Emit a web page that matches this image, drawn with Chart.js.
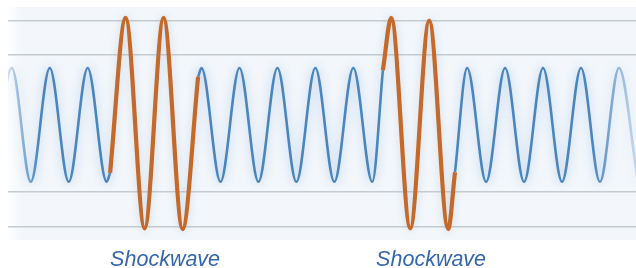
<!DOCTYPE html>
<html>
<head>
<meta charset="utf-8">
<script src="https://cdn.jsdelivr.net/npm/chart.js@4"></script>
<style>
  body { margin: 0; background: #ffffff; }
  #wrap { width: 636px; height: 268px; }
</style>
</head>
<body>
<div id="wrap"><canvas id="waveChart"></canvas></div>
<script>
// x is measured in wave cycles (blue crest = whole number), y in grid units
// null = the blue wave is broken where a shockwave takes over
const baseX = [-0.5, 0, 0.5, 1, 1.5, 2, 2.5, 2.59, 3.7, 4.91, 5, 5.5, 6, 6.5, 7, 7.5, 8, 8.5,
               9, 9.5, 9.78, 10.7, 11.68, 12, 12.5, 13, 13.5, 14, 14.5, 15, 15.5, 16, 16.5];
const baseY = [-0.85, 0.81, -0.85, 0.81, -0.85, 0.81, -0.85, -0.72, null, 0.68, 0.81, -0.85,
               0.81, -0.85, 0.81, -0.85, 0.81, -0.85, 0.81, -0.85, 0.78, null, -0.71, 0.81,
               -0.85, 0.81, -0.85, 0.81, -0.85, 0.81, -0.85, 0.81, -0.85];

const shock1X = [2.59, 3, 3.5, 4, 4.5, 4.91];
const shock1Y = [-0.72, 1.54, -1.53, 1.54, -1.54, 0.68];
const shock2X = [9.78, 10, 10.5, 11, 11.5, 11.68];
const shock2Y = [0.78, 1.54, -1.53, 1.50, -1.54, -0.71];

const gridLevels = [-1.5, -1, 1, 1.5];
const labelX = [4.04, 11.05];
const labelText = ['Shockwave', 'Shockwave'];

const toPts = (xs, ys) => xs.map((x, i) => ({ x: x, y: ys[i] }));

const panelBg = {
  id: 'panelBg',
  beforeDraw(chart) {
    const { ctx, chartArea: a } = chart;
    const g = ctx.createLinearGradient(a.left - 3, 0, a.left + 14, 0);
    g.addColorStop(0, 'rgba(243,247,251,0)');
    g.addColorStop(1, 'rgba(243,247,251,1)');
    ctx.save();
    ctx.fillStyle = g;
    ctx.fillRect(a.left - 3, a.top, 17, a.bottom - a.top);
    ctx.fillStyle = '#f3f7fb';
    ctx.fillRect(a.left + 14, a.top, a.right - a.left - 14, a.bottom - a.top);
    ctx.restore();
  }
};

const glow = {
  id: 'glow',
  beforeDatasetDraw(chart, args) {
    const ctx = chart.ctx;
    ctx.save();
    ctx.shadowColor = args.index === 0 ? 'rgba(100,150,210,0.6)' : 'rgba(150,175,205,0.45)';
    ctx.shadowBlur = args.index === 0 ? 11 : 8;
  },
  afterDatasetDraw(chart) {
    chart.ctx.restore();
  }
};

function fadeStroke(context) {
  const chart = context.chart;
  const a = chart.chartArea;
  if (!a) return '#4a86c1';
  const g = chart.ctx.createLinearGradient(a.left, 0, a.right, 0);
  g.addColorStop(0, 'rgba(74,133,190,0.25)');
  g.addColorStop(0.05, 'rgba(74,133,190,1)');
  g.addColorStop(0.93, 'rgba(74,133,190,1)');
  g.addColorStop(1, 'rgba(74,133,190,0.25)');
  return g;
}

const ctxWave = document.getElementById('waveChart');

new Chart(ctxWave, {
  type: 'line',
  data: {
    datasets: [{
      data: toPts(baseX, baseY),
      borderColor: fadeStroke,
      borderWidth: 2.6,
      cubicInterpolationMode: 'monotone',
      spanGaps: false,
      pointRadius: 0,
      clip: { left: 0, right: 0, top: false, bottom: false },
      order: 2
    }, {
      data: toPts(shock1X, shock1Y),
      borderColor: '#c4692a',
      borderWidth: 4.2,
      cubicInterpolationMode: 'monotone',
      pointRadius: 0,
      order: 1
    }, {
      data: toPts(shock2X, shock2Y),
      borderColor: '#c4692a',
      borderWidth: 4.2,
      cubicInterpolationMode: 'monotone',
      pointRadius: 0,
      order: 1
    }]
  },
  options: {
    responsive: true,
    maintainAspectRatio: false,
    animation: false,
    layout: { padding: { left: 8, top: 7, right: 0, bottom: 0 } },
    plugins: { legend: { display: false }, tooltip: { enabled: false } },
    scales: {
      x: {
        type: 'linear',
        min: -0.1,
        max: 16.45,
        grid: { display: false, drawTicks: false },
        border: { display: false },
        afterBuildTicks: s => { s.ticks = labelX.map(v => ({ value: v })); },
        afterFit: s => { s.height = 28; },
        ticks: {
          autoSkip: false,
          maxRotation: 0,
          padding: 7,
          color: '#3566ae',
          font: { family: 'Liberation Sans', size: 21.5, style: 'italic' },
          callback: (v, i) => labelText[i]
        }
      },
      y: {
        min: -1.7,
        max: 1.7,
        grid: { color: '#c6cbd0', lineWidth: 1.5, drawTicks: false },
        border: { display: false },
        afterBuildTicks: s => { s.ticks = gridLevels.map(v => ({ value: v })); },
        afterFit: s => { s.width = 0; },
        ticks: { display: false }
      }
    }
  },
  plugins: [panelBg, glow]
});
</script>
</body>
</html>
